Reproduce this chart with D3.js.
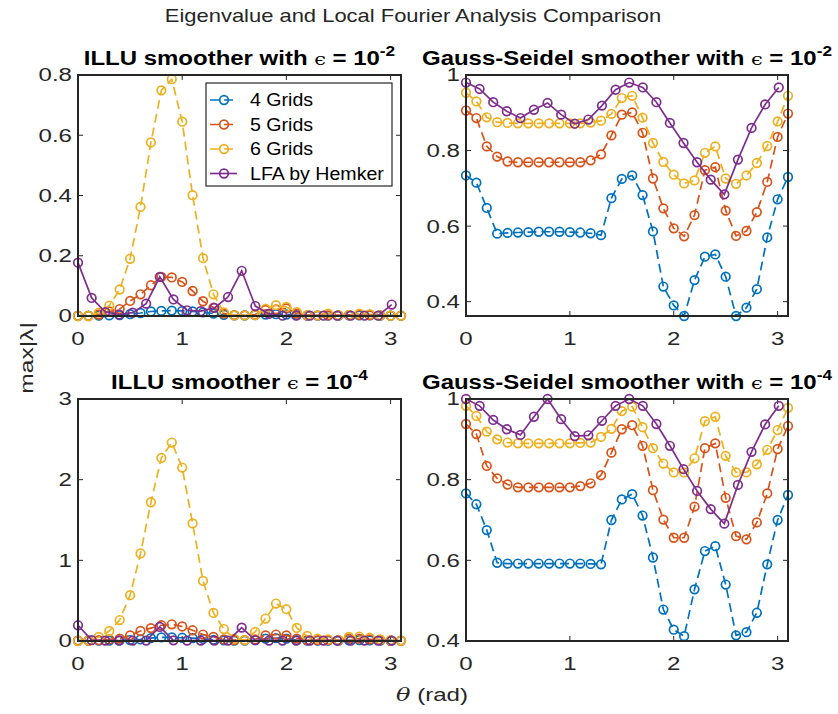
<!DOCTYPE html>
<html>
<head>
<meta charset="utf-8">
<script src="https://cdn.jsdelivr.net/npm/d3@7"></script>
<style>
  body { margin: 0; background: #fff; }
  text { font-family: "Liberation Sans", Arial, sans-serif; }
</style>
</head>
<body>
<div id="chart"></div>
<script>
// theta samples (rad)
const thetaGrid = [0,0.1,0.2,0.3,0.4,0.5,0.6,0.7,0.8,0.9,1.0,1.1,1.2,1.3,1.4,1.5,1.6,1.7,1.8,1.9,2.0,2.1,2.2,2.3,2.4,2.5,2.6,2.7,2.8,2.9,3.0,3.1];
const thetaLFA = [0,0.131,0.262,0.393,0.524,0.654,0.785,0.916,1.047,1.178,1.309,1.440,1.571,1.702,1.833,1.963,2.094,2.225,2.356,2.487,2.618,2.749,2.880,3.011];

const seriesNames = ["4 Grids", "5 Grids", "6 Grids", "LFA by Hemker"];
const seriesColors = ["#0072BD", "#D95319", "#EDB120", "#7E2F8E"];

// ILLU, eps = 1e-2
const illu2_g4 = [0.001,0.001,0.001,0.002,0.003,0.006,0.010,0.015,0.017,0.018,0.017,0.015,0.012,0.008,0.004,0.002,0.002,0.003,0.005,0.006,0.005,0.003,0.001,0.001,0.001,0.001,0.002,0.002,0.002,0.001,0.001,0.001];
const illu2_g5 = [0,0,0.005,0.015,0.023,0.050,0.072,0.102,0.130,0.128,0.113,0.083,0.049,0.028,0.008,0.003,0.002,0.005,0.020,0.022,0.025,0.008,0.002,0.002,0.002,0.002,0.003,0.004,0.003,0.002,0.001,0.001];
const illu2_g6 = [0,0,0.011,0.034,0.088,0.190,0.362,0.576,0.749,0.786,0.645,0.401,0.192,0.072,0.012,0.002,0.002,0.003,0.024,0.036,0.030,0.013,0.003,0.002,0.008,0.002,0.004,0.008,0.006,0.002,0.001,0.001];
const illu2_lfa = [0.177,0.060,0.013,0.005,0.011,0.041,0.130,0.055,0.019,0.016,0.027,0.063,0.150,0.033,0.007,0.001,0.001,0.001,0.001,0.001,0.001,0.001,0.001,0.038];

// Gauss-Seidel, eps = 1e-2
const gs2_g4 = [0.734,0.715,0.648,0.580,0.582,0.583,0.584,0.585,0.585,0.585,0.584,0.583,0.581,0.576,0.674,0.725,0.734,0.682,0.586,0.440,0.390,0.362,0.457,0.519,0.525,0.466,0.362,0.384,0.433,0.570,0.671,0.730];
const gs2_g5 = [0.906,0.886,0.811,0.784,0.771,0.769,0.769,0.769,0.769,0.769,0.769,0.769,0.774,0.790,0.840,0.895,0.901,0.847,0.726,0.647,0.594,0.573,0.629,0.748,0.756,0.641,0.574,0.587,0.637,0.717,0.836,0.898];
const gs2_g6 = [0.953,0.930,0.888,0.875,0.873,0.872,0.872,0.872,0.872,0.872,0.872,0.872,0.874,0.879,0.897,0.939,0.945,0.887,0.820,0.770,0.736,0.713,0.721,0.794,0.811,0.726,0.712,0.734,0.767,0.812,0.877,0.945];
const gs2_lfa = [0.980,0.963,0.928,0.904,0.886,0.908,0.926,0.895,0.871,0.882,0.919,0.961,0.980,0.967,0.928,0.873,0.820,0.769,0.723,0.684,0.776,0.860,0.922,0.967];

// ILLU, eps = 1e-4
const illu4_g4 = [0.005,0.005,0.005,0.005,0.008,0.012,0.020,0.035,0.045,0.045,0.040,0.035,0.025,0.015,0.008,0.005,0.005,0.010,0.030,0.035,0.030,0.010,0.005,0.005,0.005,0.005,0.008,0.010,0.008,0.005,0.005,0.005];
const illu4_g5 = [0.005,0.005,0.010,0.020,0.030,0.070,0.124,0.160,0.195,0.207,0.180,0.133,0.080,0.050,0.020,0.010,0.010,0.020,0.070,0.080,0.070,0.030,0.010,0.010,0.010,0.010,0.030,0.030,0.020,0.010,0.005,0.005];
const illu4_g6 = [0,0.005,0.050,0.124,0.260,0.568,1.085,1.720,2.270,2.460,2.150,1.458,0.745,0.348,0.148,0.030,0.010,0.112,0.278,0.464,0.394,0.162,0.062,0.030,0.020,0.010,0.050,0.055,0.040,0.020,0.010,0.005];
const illu4_lfa = [0.195,0.010,0.005,0.005,0.005,0.005,0.174,0.008,0.005,0.005,0.005,0.005,0.166,0.010,0.005,0.005,0.005,0.005,0.005,0.005,0.005,0.005,0.005,0.005];

// Gauss-Seidel, eps = 1e-4
const gs4_g4 = [0.766,0.739,0.675,0.594,0.592,0.592,0.592,0.592,0.592,0.592,0.592,0.592,0.591,0.590,0.700,0.751,0.764,0.711,0.607,0.478,0.428,0.412,0.528,0.623,0.635,0.540,0.414,0.422,0.470,0.590,0.700,0.762];
const gs4_g5 = [0.938,0.913,0.834,0.803,0.788,0.781,0.781,0.781,0.781,0.781,0.781,0.784,0.791,0.811,0.867,0.925,0.935,0.884,0.774,0.701,0.656,0.656,0.733,0.878,0.890,0.755,0.660,0.652,0.694,0.766,0.876,0.933];
const gs4_g6 = [0.983,0.958,0.919,0.900,0.892,0.890,0.890,0.890,0.890,0.890,0.890,0.891,0.892,0.906,0.926,0.970,0.981,0.930,0.878,0.840,0.818,0.818,0.853,0.945,0.956,0.859,0.818,0.818,0.838,0.874,0.923,0.978];
const gs4_lfa = [1.0,0.983,0.948,0.925,0.911,0.956,1.0,0.950,0.908,0.910,0.946,0.983,1.0,0.983,0.938,0.884,0.826,0.772,0.727,0.691,0.787,0.869,0.937,0.983];

const xTicks = [0, 1, 2, 3];

const width = 838;
const height = 714;
const axisColor = "#262626";

const panels = [
  { x0: 78, x1: 401, y0: 75, y1: 316, yDomain: [0, 0.8], yTicks: [0, 0.2, 0.4, 0.6, 0.8],
    title: "ILLU smoother with ", exp: "-2", series: [illu2_g4, illu2_g5, illu2_g6, illu2_lfa], legend: true },
  { x0: 466, x1: 788, y0: 75, y1: 316, yDomain: [0.362, 1], yTicks: [0.4, 0.6, 0.8, 1],
    title: "Gauss-Seidel smoother with ", exp: "-2", series: [gs2_g4, gs2_g5, gs2_g6, gs2_lfa] },
  { x0: 78, x1: 401, y0: 399, y1: 641, yDomain: [0, 3], yTicks: [0, 1, 2, 3],
    title: "ILLU smoother ", exp: "-4", series: [illu4_g4, illu4_g5, illu4_g6, illu4_lfa] },
  { x0: 466, x1: 788, y0: 399, y1: 641, yDomain: [0.4, 1], yTicks: [0.4, 0.6, 0.8, 1],
    title: "Gauss-Seidel smoother with ", exp: "-4", series: [gs4_g4, gs4_g5, gs4_g6, gs4_lfa] }
];

const svg = d3.select("#chart").append("svg")
  .attr("width", width).attr("height", height);

// the reference font is wider than Liberation Sans, so text is stretched horizontally
function label(parent, x, y, anchor, size, sx, rot) {
  const g = parent.append("g")
    .attr("transform", `translate(${x},${y})` + (rot ? ` rotate(${rot})` : "") + ` scale(${sx},1)`);
  return g.append("text")
    .attr("text-anchor", anchor)
    .style("font-size", size + "px")
    .attr("fill", axisColor);
}

label(svg, 413, 22, "middle", 18, 1.22)
  .text("Eigenvalue and Local Fourier Analysis Comparison");

function drawSeries(g, xs, ys, color, dashed, xScale, yScale) {
  const line = d3.line().x((d, i) => xScale(xs[i])).y(d => yScale(d));
  g.append("path")
    .datum(ys)
    .attr("fill", "none")
    .attr("stroke", color)
    .attr("stroke-width", 1.7)
    .attr("stroke-dasharray", dashed ? "9,5" : null)
    .attr("d", line);
  g.selectAll(null)
    .data(ys)
    .enter()
    .append("circle")
    .attr("cx", (d, i) => xScale(xs[i]))
    .attr("cy", d => yScale(d))
    .attr("r", 4.3)
    .attr("fill", "none")
    .attr("stroke", color)
    .attr("stroke-width", 1.7);
}

panels.forEach(p => {
  const x = d3.scaleLinear().domain([0, 3.1]).range([p.x0, p.x1]);
  const y = d3.scaleLinear().domain(p.yDomain).range([p.y1, p.y0]);
  const g = svg.append("g");

  // ticks: inward, on all four sides
  const tl = 5;
  xTicks.forEach(t => {
    g.append("line").attr("x1", x(t)).attr("x2", x(t)).attr("y1", p.y1).attr("y2", p.y1 - tl)
      .attr("stroke", axisColor).attr("stroke-width", 1);
    g.append("line").attr("x1", x(t)).attr("x2", x(t)).attr("y1", p.y0).attr("y2", p.y0 + tl)
      .attr("stroke", axisColor).attr("stroke-width", 1);
    label(g, x(t), p.y1 + 29, "middle", 18.5, 1.3).text(d3.format("")(t));
  });
  p.yTicks.forEach(t => {
    g.append("line").attr("x1", p.x0).attr("x2", p.x0 + tl).attr("y1", y(t)).attr("y2", y(t))
      .attr("stroke", axisColor).attr("stroke-width", 1);
    g.append("line").attr("x1", p.x1).attr("x2", p.x1 - tl).attr("y1", y(t)).attr("y2", y(t))
      .attr("stroke", axisColor).attr("stroke-width", 1);
    label(g, p.x0 - 6, y(t), "end", 18.5, 1.3).attr("dy", "0.35em").text(d3.format("")(t));
  });

  const data = g.append("g");
  p.series.forEach((s, i) => {
    const xs = i === 3 ? thetaLFA : thetaGrid;
    drawSeries(data, xs, s, seriesColors[i], i < 3, x, y);
  });

  g.append("rect")
    .attr("x", p.x0).attr("y", p.y0)
    .attr("width", p.x1 - p.x0).attr("height", p.y1 - p.y0)
    .attr("fill", "none").attr("stroke", axisColor).attr("stroke-width", 2);

  // title with epsilon and superscript
  const t = label(svg, (p.x0 + p.x1) / 2, p.y0 - 10, "middle", 19.5, 1.23)
    .style("font-weight", "bold").attr("fill", "#000");
  t.append("tspan").text(p.title);
  t.append("tspan").style("font-family", "'DejaVu Serif', serif").style("font-weight", "normal")
    .style("font-size", "17px").text("\u03F5");
  t.append("tspan").text(" = 10");
  t.append("tspan").attr("dy", -9).style("font-size", "14px").text(p.exp);

  if (p.legend) {
    const lg = svg.append("g").attr("transform", "translate(206,83)");
    lg.append("rect").attr("width", 186).attr("height", 103)
      .attr("fill", "#fff").attr("stroke", axisColor).attr("stroke-width", 1.2);
    seriesNames.forEach((name, i) => {
      const yy = 17 + i * 24.5;
      lg.append("line").attr("x1", 4).attr("x2", 31).attr("y1", yy).attr("y2", yy)
        .attr("stroke", seriesColors[i]).attr("stroke-width", 1.7)
        .attr("stroke-dasharray", i < 3 ? "9,5" : null);
      lg.append("circle").attr("cx", 18).attr("cy", yy).attr("r", 4.3)
        .attr("fill", "none").attr("stroke", seriesColors[i]).attr("stroke-width", 1.7);
      label(lg, 44, yy, "start", 17.5, 1.12).attr("dy", "0.35em").attr("fill", "#000").text(name);
    });
  }
});

label(svg, 33, 358, "middle", 18.5, 1.33, -90).text("max|\u03BB|");

const xl = label(svg, 432, 701, "middle", 18.5, 1.3);
xl.append("tspan").style("font-family", "'DejaVu Serif', serif").style("font-style", "italic").text("\u03B8");
xl.append("tspan").text(" (rad)");
</script>
</body>
</html>
